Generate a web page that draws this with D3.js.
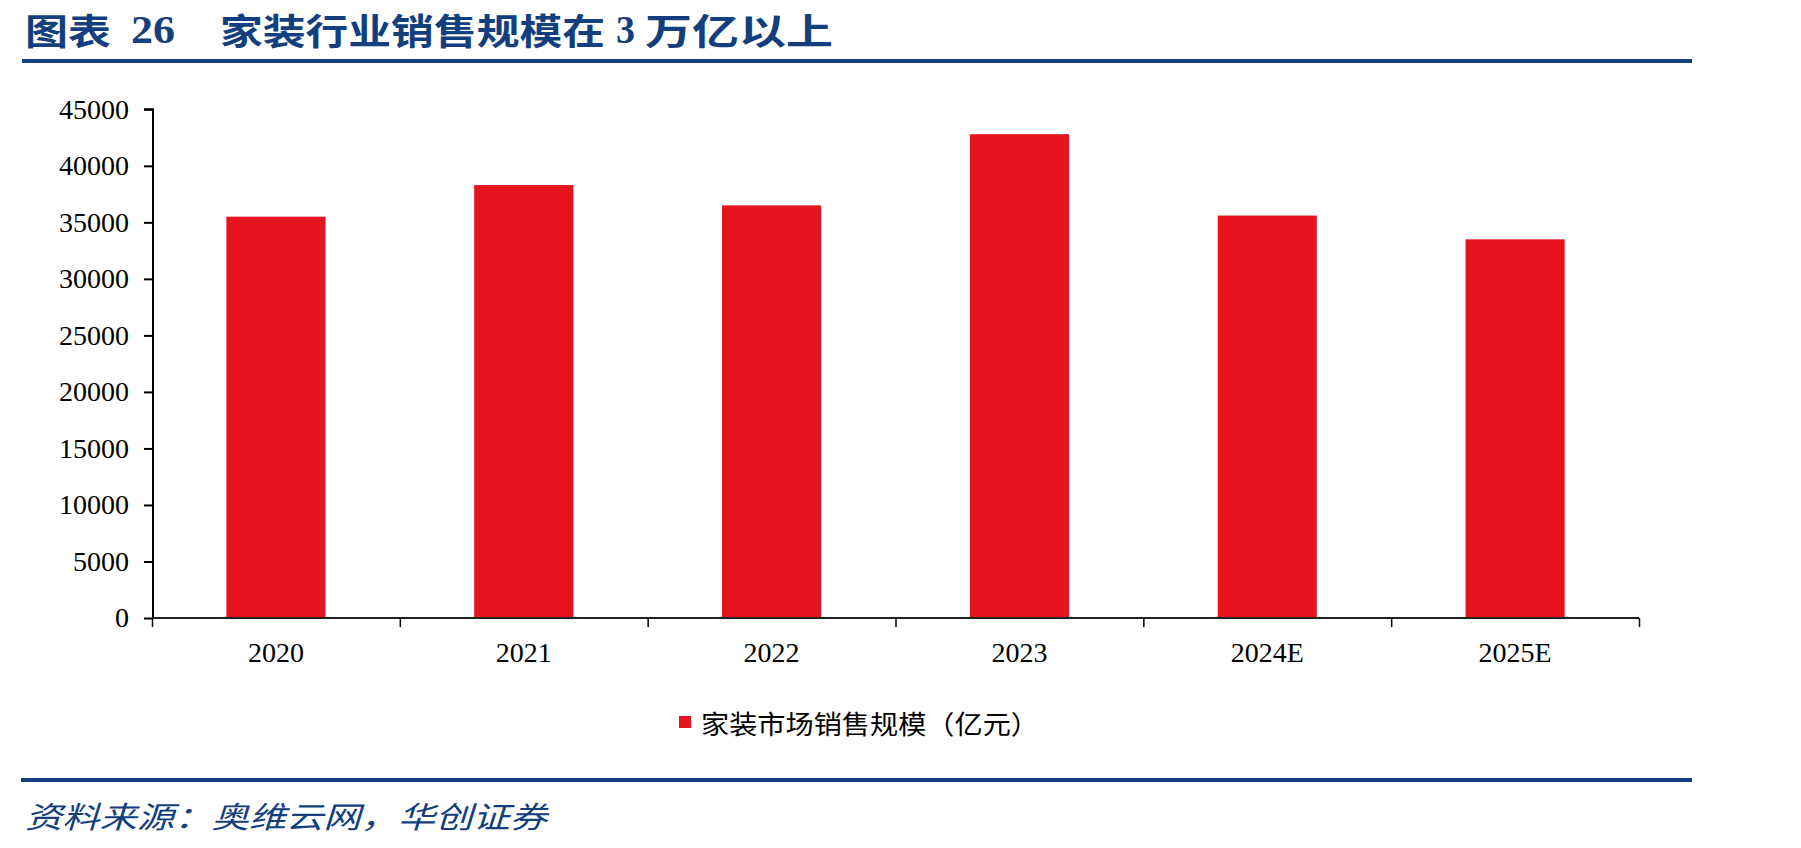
<!DOCTYPE html>
<html>
<head>
<meta charset="utf-8">
<script src="https://cdn.jsdelivr.net/npm/d3@7"></script>
<style>
  html, body { margin: 0; padding: 0; background: #ffffff; }
  svg { display: block; }
</style>
</head>
<body>
<svg id="chart" width="1801" height="848"></svg>
<script>
// ---- data ----
const categories = ["2020", "2021", "2022", "2023", "2024E", "2025E"];
const salesValues = [35500, 38300, 36500, 42800, 35600, 33500];
const yTicks = [0, 5000, 10000, 15000, 20000, 25000, 30000, 35000, 40000, 45000];
const seriesName = "家装市场销售规模（亿元）";
const titleParts = ["图表", "26", "家装行业销售规模在", "3", "万亿以上"];
const sourceText = "资料来源：奥维云网，华创证券";

// ---- layout ----
const svg = d3.select("#chart");
const W = 1801, H = 848;
const plot = { left: 153, right: 1639, top: 109.3, bottom: 618 };
const BLUE = "#133f7e";
const RED = "#e6141e";
const CJK = "'Noto Sans CJK SC', 'Noto Sans', sans-serif";
const SERIF = "'Liberation Serif', 'DejaVu Serif', serif";

svg.append("rect").attr("width", W).attr("height", H).attr("fill", "#fff");

// ---- title ----
const titleG = svg.append("g").attr("fill", BLUE).attr("font-weight", 700);
const titleSpec = [
  { t: titleParts[0], x: 25, len: 86, f: CJK },
  { t: titleParts[1], x: 131, len: 44, f: SERIF },
  { t: titleParts[2], x: 220, len: 385, f: CJK },
  { t: titleParts[3], x: 616, len: 19, f: SERIF },
  { t: titleParts[4], x: 645, len: 188, f: CJK }
];
titleSpec.forEach(s => {
  titleG.append("text")
    .attr("x", s.x).attr("y", 29)
    .attr("dominant-baseline", "central")
    .attr("font-family", s.f)
    .attr("font-size", s.f === SERIF ? 40 : 36)
    .attr("textLength", s.len)
    .attr("lengthAdjust", "spacingAndGlyphs")
    .text(s.t);
});
svg.append("rect").attr("x", 22).attr("y", 59).attr("width", 1670).attr("height", 4).attr("fill", BLUE);

// ---- scales ----
const x = d3.scaleBand().domain(categories).range([plot.left - 1, plot.right])
  .paddingInner(0.6).paddingOuter(0.3);
const y = d3.scaleLinear().domain([0, 45000]).range([plot.bottom, plot.top]);

// ---- bars ----
svg.append("g").selectAll("rect").data(categories).join("rect")
  .attr("x", d => x(d))
  .attr("y", (d, i) => y(salesValues[i]))
  .attr("width", x.bandwidth())
  .attr("height", (d, i) => y(0) - y(salesValues[i]))
  .attr("fill", RED);

// ---- y axis ----
const yAxis = svg.append("g").attr("transform", `translate(${plot.left},0)`)
  .call(d3.axisLeft(y).tickValues(yTicks).tickSize(9).tickPadding(15).tickFormat(d3.format("d")));
yAxis.select(".domain").attr("stroke", "#000").attr("stroke-width", 2).attr("d", `M-9,${y(45000)}H0V${y(0)}`);
yAxis.selectAll(".tick line").attr("stroke", "#000").attr("stroke-width", 2);
yAxis.selectAll(".tick text").attr("font-family", SERIF).attr("font-size", 28).attr("fill", "#000");

// ---- x axis: labels at centres, ticks at band boundaries ----
const step = x.step();
const boundaries = categories.map(c => x(c) - step * x.paddingOuter()).concat([x.range()[1]]);
const xb = d3.scaleLinear().domain([0, 1]).range([0, 1]);
const xTickAxis = svg.append("g").attr("transform", `translate(0,${plot.bottom})`)
  .call(d3.axisBottom(xb).tickValues(boundaries).tickSize(9).tickFormat(""));
xTickAxis.select(".domain").attr("stroke", "#222").attr("stroke-width", 2)
  .attr("d", `M${plot.left - 1},0H${plot.right}`);
xTickAxis.selectAll(".tick line").attr("stroke", "#000").attr("stroke-width", 1.5);

const xLabelAxis = svg.append("g").attr("transform", `translate(0,${plot.bottom})`)
  .call(d3.axisBottom(x).tickSize(0).tickPadding(24));
xLabelAxis.select(".domain").remove();
xLabelAxis.selectAll(".tick text").attr("font-family", SERIF).attr("font-size", 28).attr("fill", "#000");

// ---- legend ----
const lg = svg.append("g");
lg.append("rect").attr("x", 679).attr("y", 716).attr("width", 12).attr("height", 12).attr("fill", RED);
lg.append("text").attr("x", 701).attr("y", 722)
  .attr("dominant-baseline", "central")
  .attr("font-family", CJK).attr("font-size", 26).attr("fill", "#000")
  .attr("textLength", 338).attr("lengthAdjust", "spacingAndGlyphs")
  .text(seriesName);

// ---- footer ----
svg.append("rect").attr("x", 21).attr("y", 778).attr("width", 1671).attr("height", 4).attr("fill", BLUE);
svg.append("text").attr("x", 25).attr("y", 815)
  .attr("dominant-baseline", "central")
  .attr("font-family", CJK).attr("font-size", 30).attr("font-style", "italic")
  .attr("fill", BLUE)
  .attr("textLength", 522).attr("lengthAdjust", "spacingAndGlyphs")
  .text(sourceText);
</script>
</body>
</html>
